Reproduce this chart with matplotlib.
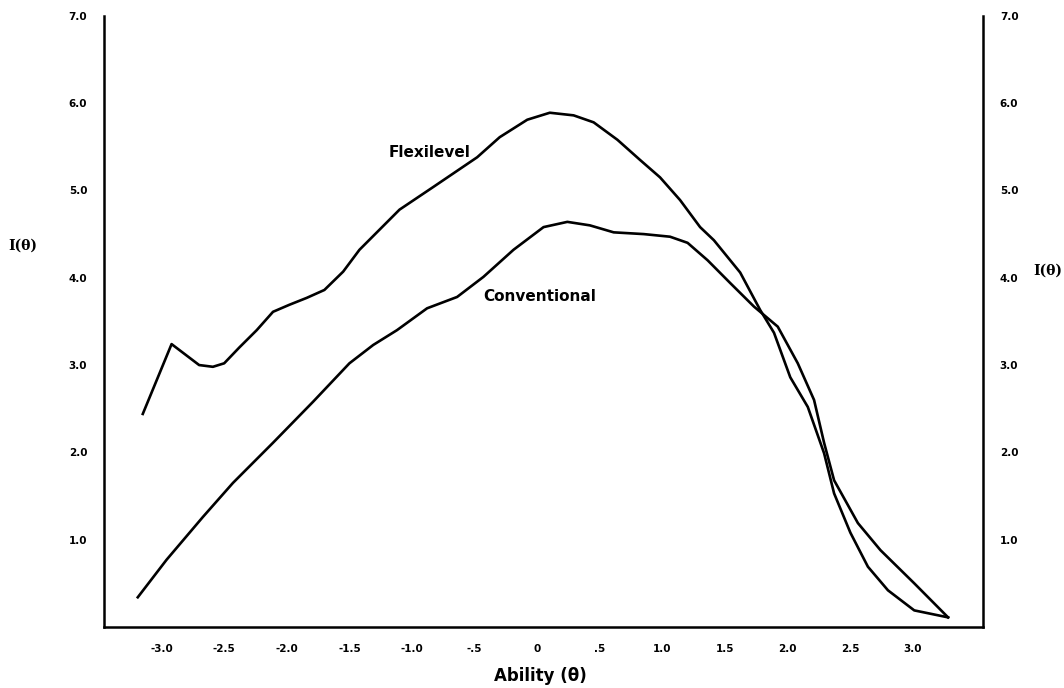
import matplotlib
matplotlib.use("Agg")
import matplotlib.pyplot as plt

# Flexilevel egrisi (okunan noktalar)
flex_x = [-3.15, -2.92, -2.70, -2.59, -2.50, -2.38, -2.24, -2.11, -1.98, -1.84,
          -1.70, -1.55, -1.42, -1.26, -1.10, -0.83, -0.48, -0.30, -0.08, 0.10,
          0.29, 0.45, 0.64, 0.82, 0.98, 1.14, 1.30, 1.41, 1.62, 1.78,
          1.89, 2.02, 2.16, 2.29, 2.37, 2.50, 2.64, 2.80, 3.01, 3.28]
flex_y = [2.44, 3.24, 3.00, 2.98, 3.02, 3.20, 3.40, 3.61, 3.69, 3.77,
          3.86, 4.07, 4.32, 4.55, 4.78, 5.04, 5.38, 5.61, 5.81, 5.89,
          5.86, 5.78, 5.58, 5.35, 5.15, 4.89, 4.58, 4.43, 4.06, 3.63,
          3.37, 2.86, 2.52, 1.99, 1.53, 1.08, 0.69, 0.42, 0.19, 0.11]

# Conventional egrisi
conv_x = [-3.19, -2.96, -2.67, -2.43, -2.11, -1.79, -1.50, -1.31, -1.12, -0.88,
          -0.64, -0.43, -0.19, 0.05, 0.24, 0.42, 0.61, 0.85, 1.06, 1.20,
          1.36, 1.54, 1.73, 1.92, 2.08, 2.21, 2.29, 2.37, 2.56, 2.74,
          3.01, 3.28]
conv_y = [0.34, 0.77, 1.26, 1.65, 2.11, 2.58, 3.02, 3.23, 3.40, 3.65,
          3.78, 4.01, 4.32, 4.58, 4.64, 4.60, 4.52, 4.50, 4.47, 4.40,
          4.20, 3.94, 3.67, 3.44, 3.02, 2.60, 2.11, 1.68, 1.19, 0.88,
          0.50, 0.11]

x_ticks = [-3.0, -2.5, -2.0, -1.5, -1.0, -0.5, 0, 0.5, 1.0, 1.5, 2.0, 2.5, 3.0]
x_labels = ["-3.0", "-2.5", "-2.0", "-1.5", "-1.0", "-.5", "0", ".5",
            "1.0", "1.5", "2.0", "2.5", "3.0"]
y_ticks = [1, 2, 3, 4, 5, 6, 7]
y_labels = ["1.0", "2.0", "3.0", "4.0", "5.0", "6.0", "7.0"]

fig = plt.figure(figsize=(10.64, 6.88), dpi=100)
ax = fig.add_axes([0.0977, 0.0887, 0.8263, 0.8883])

ax.plot(flex_x, flex_y, color="black", lw=1.9, solid_joinstyle="round")
ax.plot(conv_x, conv_y, color="black", lw=1.9, solid_joinstyle="round")

ax.set_xlim(-3.46, 3.56)
ax.set_ylim(0, 7)

# sol, alt ve sag cizgiler; ust cizgi yok
ax.spines["top"].set_visible(False)
for s in ["left", "bottom", "right"]:
    ax.spines[s].set_linewidth(1.8)

ax.set_xticks(x_ticks)
ax.set_xticklabels(x_labels, fontsize=7.5, fontweight="bold")
ax.set_yticks(y_ticks)
ax.set_yticklabels(y_labels, fontsize=7.5, fontweight="bold")
ax.tick_params(length=0, pad=12)

# sag eksendeki ayni etiketler
ax2 = ax.twinx()
ax2.set_ylim(0, 7)
ax2.set_yticks(y_ticks)
ax2.set_yticklabels(y_labels, fontsize=7.5, fontweight="bold")
ax2.tick_params(length=0, pad=12)
for s in ["top", "left", "bottom", "right"]:
    ax2.spines[s].set_visible(False)

ax.text(-0.86, 5.44, "Flexilevel", fontsize=11, fontweight="bold", ha="center", va="center")
ax.text(0.02, 3.78, "Conventional", fontsize=11, fontweight="bold", ha="center", va="center")

fig.text(0.508, 0.017, "Ability (θ)", fontsize=12, fontweight="bold", ha="center", va="center")
fig.text(0.021, 0.643, "I(θ)", fontsize=10, family="DejaVu Serif", fontweight="bold",
         ha="center", va="center")
fig.text(0.985, 0.607, "I(θ)", fontsize=10, family="DejaVu Serif", fontweight="bold",
         ha="center", va="center")

fig.savefig("out.png", dpi=100)
